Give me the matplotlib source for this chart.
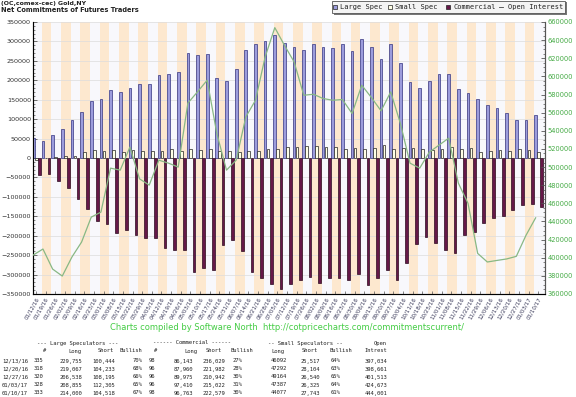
import numpy as np
import matplotlib.pyplot as plt
from matplotlib.ticker import MultipleLocator, AutoMinorLocator
from matplotlib.patches import Rectangle
from matplotlib.lines import Line2D

# weekly report dates
dates = ['01/12/16', '01/19/16', '01/26/16', '02/02/16', '02/09/16', '02/16/16', '02/23/16',
         '03/01/16', '03/08/16', '03/15/16', '03/22/16', '03/29/16', '04/05/16', '04/12/16',
         '04/19/16', '04/26/16', '05/03/16', '05/10/16', '05/17/16', '05/24/16', '05/31/16',
         '06/07/16', '06/14/16', '06/21/16', '06/28/16', '07/05/16', '07/12/16', '07/19/16',
         '07/26/16', '08/02/16', '08/09/16', '08/16/16', '08/23/16', '08/30/16', '09/06/16',
         '09/13/16', '09/20/16', '09/27/16', '10/04/16', '10/11/16', '10/18/16', '10/25/16',
         '11/01/16', '11/08/16', '11/15/16', '11/22/16', '11/29/16', '12/06/16', '12/13/16',
         '12/20/16', '12/27/16', '01/03/17', '01/10/17']

large_spec = [52000, 44500, 60000, 74500, 98400, 119000, 147000, 153000, 175500, 169500,
              179000, 191000, 191000, 214000, 217000, 222000, 271000, 265000, 267000, 207000,
              197700, 228500, 279000, 292700, 302000, 316000, 297000, 286000, 279000, 294500,
              286000, 284000, 294500, 275600, 307000, 286000, 256000, 292700, 245700, 196000,
              180600, 197700, 215700, 217400, 177200, 167800, 152400, 137000, 129311, 114834,
              98343, 96550, 109482]

small_spec = [-4000, -1000, 2000, 6000, 6000, 14500, 20500, 18800, 20500, 16000,
              21400, 18800, 17000, 17000, 24000, 18800, 24000, 21400, 24000, 18800,
              17000, 16300, 18800, 18800, 24000, 24000, 27400, 29100, 30800, 30800,
              28200, 28200, 22300, 25700, 23100, 25700, 33400, 23100, 25700, 25700,
              22300, 20500, 24000, 29100, 22300, 25700, 15400, 18800, 20575, 19188,
              22624, 21062, 16334]

commercial = [-44000, -40800, -60400, -76500, -104600, -131800, -162400, -170900, -193800, -185300,
              -198900, -206600, -204900, -230400, -238000, -238000, -293300, -283000, -289000, -223600,
              -211600, -240600, -294100, -309400, -323900, -336600, -323000, -312800, -306000, -321300,
              -307700, -307700, -314500, -298400, -328100, -309400, -289000, -312800, -270300, -221000,
              -204000, -217600, -238000, -244800, -198900, -190400, -166600, -155600, -149886, -134022,
              -120967, -117612, -125816]

open_interest = [403000, 409600, 387500, 379800, 400800, 417300, 444800, 450300, 498800, 496600,
                 522000, 487000, 480100, 507600, 504300, 500000, 570500, 583000, 595800, 537000,
                 496600, 507600, 555300, 573700, 621400, 653800, 634300, 616000, 579200, 580300,
                 575600, 573700, 574500, 559100, 590300, 576700, 562000, 582900, 548100, 504300,
                 498800, 516500, 524200, 531900, 482300, 460000, 404800, 395300, 397034, 398661,
                 401513, 424673, 444001]

# table below the chart
tbl_dates = ['12/13/16', '12/20/16', '12/27/16', '01/03/17', '01/10/17']
ls_count = ['335', '318', '320', '328', '333']
ls_long = ['229,755', '219,067', '206,538', '208,855', '214,000']
ls_short = ['100,444', '104,233', '108,195', '112,305', '104,518']
ls_bull = ['70%', '68%', '66%', '65%', '67%']
cm_count = ['98', '96', '96', '96', '98']
cm_long = ['86,143', '87,960', '89,975', '97,410', '96,763']
cm_short = ['236,029', '221,982', '210,942', '215,022', '222,579']
cm_bull = ['27%', '28%', '30%', '31%', '30%']
ss_long = ['46092', '47292', '49164', '47387', '44077']
ss_short = ['25,517', '28,104', '26,540', '26,325', '27,743']
ss_bull = ['64%', '63%', '65%', '64%', '61%']
oi_tbl = ['397,034', '398,661', '401,513', '424,673', '444,001']

W, H = 576, 397
fig = plt.figure(figsize=(W / 100, H / 100), dpi=100)


def fx(px):
    return px / W


def fy(py):
    return 1 - py / H


ax = fig.add_axes([fx(33), fy(294), fx(512), 272 / H])
ax.set_facecolor('#F8F8FC')
n = len(dates)
x = np.arange(n)

for i in range(1, n, 2):
    ax.axvspan(i - 0.1, i + 0.9, color='#FDE8CF', lw=0, zorder=0.2)

ax.bar(x + 0.03, large_spec, width=0.28, color='#9C9CDC', edgecolor='#333380', lw=0.5, zorder=2)
ax.bar(x + 0.34, small_spec, width=0.28, color='#FFFFE6', edgecolor='#222222', lw=0.5, zorder=2)
ax.bar(x + 0.67, commercial, width=0.28, color='#661848', edgecolor='#2A0A1E', lw=0.5, zorder=2)

ax.set_xlim(0, n)
ax.set_ylim(-350000, 350000)
ax.yaxis.set_major_locator(MultipleLocator(50000))
ax.yaxis.set_minor_locator(AutoMinorLocator(5))
ax.yaxis.grid(True, color='#DCDCDC', lw=0.5)
ax.set_axisbelow(True)
ax.set_xticks(x + 0.3)
ax.set_xticklabels(dates, rotation=60, ha='right', rotation_mode='anchor',
                   fontsize=4, color='#3A3A5A')
ax.tick_params(axis='y', which='major', direction='in', length=3, width=0.6,
               labelsize=4.6, labelcolor='#333333', color='#555555', pad=1.5)
ax.tick_params(axis='y', which='minor', direction='in', length=1.5, width=0.5, color='#555555')
ax.tick_params(axis='x', direction='in', length=2, width=0.5, color='#555555', pad=2)
for s in ['left', 'bottom', 'right']:
    ax.spines[s].set_color('#555555')
    ax.spines[s].set_linewidth(0.8)
ax.spines['top'].set_visible(False)

ax2 = ax.twinx()
ax2.plot(x + 0.03, open_interest, color='#88B884', lw=0.9, zorder=5)
ax2.set_ylim(360000, 660000)
ax2.yaxis.set_major_locator(MultipleLocator(20000))
ax2.yaxis.set_minor_locator(AutoMinorLocator(4))
ax2.tick_params(axis='y', which='major', direction='in', length=3, width=0.6,
                labelsize=4.8, labelcolor='#44AA44', color='#555555', pad=2)
ax2.tick_params(axis='y', which='minor', direction='in', length=1.5, width=0.5, color='#555555')
ax2.spines['top'].set_visible(False)
ax2.spines['right'].set_color('#555555')

# title
fig.text(fx(1), fy(3), '(OC,comex-cec) Gold,NY', fontsize=4.5, fontweight='bold',
         va='center', ha='left', color='#222222')
fig.text(fx(1), fy(9.5), 'Net Commitments of Futures Traders', fontsize=4.8, fontweight='bold',
         va='center', ha='left', color='#222222')

# legend box
fig.patches.append(Rectangle((fx(334), fy(15)), fx(233), 13 / H, transform=fig.transFigure,
                             facecolor='#777777', edgecolor='none'))
fig.patches.append(Rectangle((fx(332), fy(13)), fx(233), 12 / H, transform=fig.transFigure,
                             facecolor='#F4F4F4', edgecolor='#555555', lw=0.6))
mono = 'DejaVu Sans Mono'
leg_items = [(335, '#9C9CDC', 'Large Spec'), (390, '#FFFFE6', 'Small Spec'),
             (448, '#661848', 'Commercial')]
for px, col, lab in leg_items:
    fig.patches.append(Rectangle((fx(px - 2), fy(9)), fx(4), 4 / H, transform=fig.transFigure,
                                 facecolor=col, edgecolor='#222222', lw=0.5))
    fig.text(fx(px + 5), fy(7), lab, fontsize=5, family=mono, va='center', ha='left',
             color='#222222')
fig.lines.append(Line2D([fx(499), fx(503)], [fy(7), fy(7)], transform=fig.transFigure,
                        color='#444444', lw=0.6))
fig.text(fx(508), fy(7), 'Open Interest', fontsize=5, family=mono, va='center', ha='left',
         color='#222222')

# credit line
fig.text(fx(287), fy(327), 'Charts compiled by Software North  http://cotpricecharts.com/commitmentscurrent/',
         fontsize=6, color='#44CC44', ha='center', va='center')

# table
tfs = 4.0
tc = '#222222'
fig.text(fx(78), fy(343), '--- Large Speculators ---', fontsize=tfs, family=mono, ha='center', va='center', color=tc)
fig.text(fx(192), fy(343), '------ Commercial ------', fontsize=tfs, family=mono, ha='center', va='center', color=tc)
fig.text(fx(305), fy(343), '-- Small Speculators --', fontsize=tfs, family=mono, ha='center', va='center', color=tc)
fig.text(fx(387), fy(343), 'Open', fontsize=tfs, family=mono, ha='right', va='center', color=tc)

hdr = [(46, '#'), (81, 'Long'), (114, 'Short'), (142, 'Bullish'), (157, '#'), (197, 'Long'),
       (222, 'Short'), (253, 'Bullish'), (284, 'Long'), (318, 'Short'), (352, 'Bullish'),
       (387, 'Intrest')]
for px, lab in hdr:
    fig.text(fx(px), fy(351), lab, fontsize=tfs, family=mono, ha='right', va='center', color=tc)

cols = [(43, ls_count), (82, ls_long), (115, ls_short), (142, ls_bull), (155, cm_count),
        (193, cm_long), (225, cm_short), (242, cm_bull), (287, ss_long), (320, ss_short),
        (340, ss_bull), (387, oi_tbl)]
for r in range(len(tbl_dates)):
    py = 361 + r * 8
    fig.text(fx(2), fy(py), tbl_dates[r], fontsize=tfs, family=mono, ha='left', va='center', color=tc)
    for px, vals in cols:
        fig.text(fx(px), fy(py), vals[r], fontsize=tfs, family=mono, ha='right', va='center', color=tc)

fig.savefig('out.png', dpi=100)
